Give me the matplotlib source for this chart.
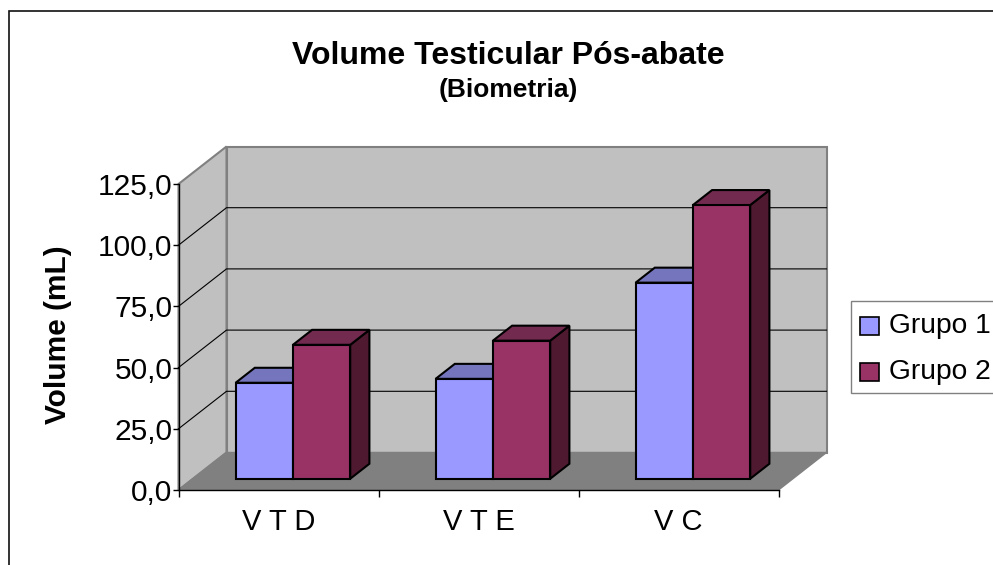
import matplotlib
matplotlib.use('Agg')
import matplotlib.pyplot as plt
from matplotlib.patches import Polygon, Rectangle

plt.rcParams['font.family'] = ['Liberation Sans', 'DejaVu Sans']

categories = ['V T D', 'V T E', 'V C']
grupo1 = [39.2, 40.8, 80.1]
grupo2 = [54.7, 56.4, 111.8]
series_names = ['Grupo 1', 'Grupo 2']
y_ticks = [0, 25, 50, 75, 100, 125]
y_labels = ['0,0', '25,0', '50,0', '75,0', '100,0', '125,0']

W, H = 993, 565
fig = plt.figure(figsize=(W / 100, H / 100), dpi=100)

# front plane of the fake 3d box, pixels
left, right, bottom, top = 178.5, 778.5, 490, 184
ax = fig.add_axes([left / W, 1 - bottom / H, (right - left) / W, (bottom - top) / H])
ax.set_xlim(0, 3)
ax.set_ylim(0, 125)
ax.patch.set_visible(False)

# depth of the box in data units
dx = 48 / 200
dy = 37.5 / 2.448


def proj(x, y, z):
    return (x + z * dx, y + z * dy)


def face(points, fc, ec, lw, zorder):
    p = Polygon([proj(*q) for q in points], closed=True, facecolor=fc, edgecolor=ec,
                linewidth=lw, zorder=zorder, clip_on=False, joinstyle='miter')
    ax.add_patch(p)


wall = '#c0c0c0'
edge = '#808080'
face([(0, 0, 1), (3, 0, 1), (3, 125, 1), (0, 125, 1)], wall, edge, 1.5, 1)
face([(0, 0, 0), (0, 0, 1), (0, 125, 1), (0, 125, 0)], wall, edge, 1.5, 1)
face([(0, 0, 0), (3, 0, 0), (3, 0, 1), (0, 0, 1)], '#808080', '#808080', 1, 1.5)

for v in y_ticks[1:-1]:
    x0, y0 = proj(0, v, 0)
    x1, y1 = proj(0, v, 1)
    x2, y2 = proj(3, v, 1)
    ax.plot([x0, x1, x2], [y0, y1, y2], c='k', lw=0.8, zorder=2, clip_on=False)

colors = ['#9999ff', '#993366']
tops = ['#7575bd', '#722a4f']
sides = ['#5e5e9e', '#4f1a30']
bar_w = 0.2865
z0, z1 = 0.3, 0.7

for i in range(len(categories)):
    for s, vals in enumerate([grupo1, grupo2]):
        x0 = i + 0.5 + (s - 1) * bar_w
        x1 = x0 + bar_w
        v = vals[i]
        zo = 3 + s + i * 2
        face([(x1, 0, z0), (x1, 0, z1), (x1, v, z1), (x1, v, z0)], sides[s], 'k', 1.5, zo)
        face([(x0, v, z0), (x1, v, z0), (x1, v, z1), (x0, v, z1)], tops[s], 'k', 1.5, zo)
        face([(x0, 0, z0), (x1, 0, z0), (x1, v, z0), (x0, v, z0)], colors[s], 'k', 1.5, zo)

for sp in ['top', 'right']:
    ax.spines[sp].set_visible(False)
for sp in ['left', 'bottom']:
    ax.spines[sp].set_linewidth(1)
    ax.spines[sp].set_zorder(2.5)

ax.set_yticks(y_ticks)
ax.set_yticklabels(y_labels, fontsize=21.5)
ax.tick_params(axis='y', length=4.5, width=1, pad=0)
ax.set_xticks([0, 1, 2, 3])
ax.set_xticklabels([])
ax.set_xticks([0.5, 1.5, 2.5], minor=True)
ax.set_xticklabels(categories, minor=True, fontsize=21)
ax.tick_params(axis='x', which='major', length=5, width=1)
ax.tick_params(axis='x', which='minor', length=0, pad=13)

fig.text(58 / W, 1 - 335 / H, 'Volume (mL)', rotation=90, ha='center', va='center',
         fontsize=21.5, fontweight='bold')
fig.text(508 / W, 1 - 56 / H, 'Volume Testicular Pós-abate', ha='center', va='center',
         fontsize=23, fontweight='bold')
fig.text(508 / W, 1 - 90 / H, '(Biometria)', ha='center', va='center',
         fontsize=19, fontweight='bold')

# chart frame and legend box
fig.add_artist(Rectangle((8.5 / W, -0.1), 1.1, 1.1 - 11 / H, transform=fig.transFigure,
                         fill=False, ec='#101010', lw=1.2))
fig.add_artist(Rectangle((850.5 / W, 1 - 393 / H), 0.2, 92 / H, transform=fig.transFigure,
                         fc='w', ec='#808080', lw=1))
for s, name in enumerate(series_names):
    yc = 326 + s * 46
    fig.add_artist(Rectangle((860 / W, 1 - (yc + 9) / H), 18.5 / W, 18 / H,
                             transform=fig.transFigure, fc=colors[s], ec='k', lw=1.2))
    fig.text(889 / W, 1 - yc / H, name, ha='left', va='center', fontsize=20.3)

fig.savefig('out.png', dpi=100)
